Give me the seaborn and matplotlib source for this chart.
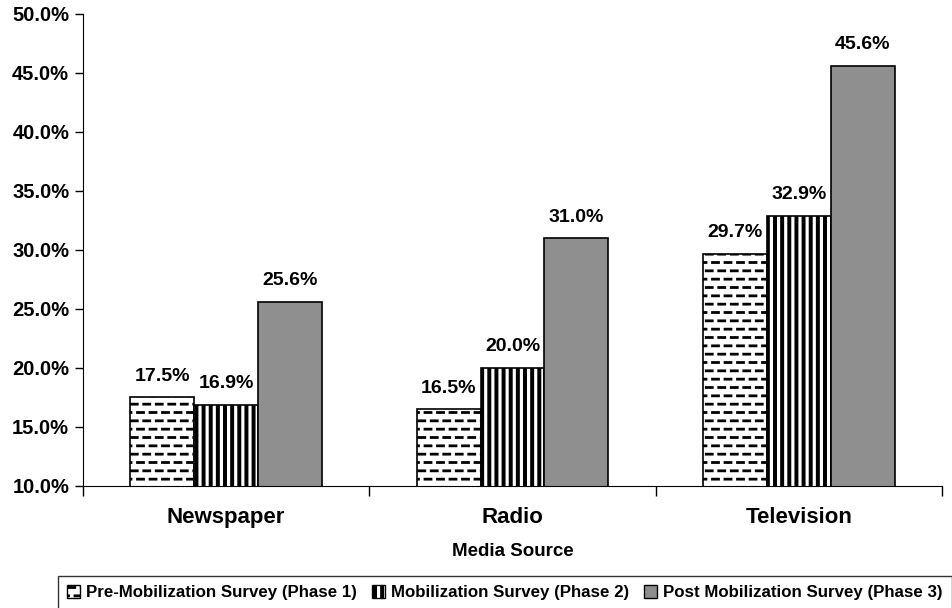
import numpy as np
import pandas as pd
import matplotlib
matplotlib.use('Agg')
import matplotlib.pyplot as plt
import matplotlib.hatch as mhatch
from matplotlib.path import Path
import seaborn as sns
from matplotlib.ticker import FuncFormatter, FixedLocator

# data
media = ['Newspaper', 'Radio', 'Television']
phases = ['Pre-Mobilization Survey (Phase 1)',
          'Mobilization Survey (Phase 2)',
          'Post Mobilization Survey (Phase 3)']
phase1 = [17.5, 16.5, 29.7]
phase2 = [16.9, 20.0, 32.9]
phase3 = [25.6, 31.0, 45.6]

df = pd.DataFrame({
    'Media Source': media * 3,
    'Phase': [phases[0]] * 3 + [phases[1]] * 3 + [phases[2]] * 3,
    'Value': phase1 + phase2 + phase3,
})


# staggered short dashes for '-' (Excel style pattern)
class DashHatch(mhatch.HatchPatternBase):
    rows, per_row, dash = 12, 8, 0.06

    def __init__(self, hatch, density):
        self.num_vertices = 2 * self.rows * self.per_row if '-' in hatch else 0

    def set_vertices_and_codes(self, vertices, codes):
        i = 0
        for r in range(self.rows):
            y = (r + 0.5) / self.rows
            off = 0.0 if r % 2 == 0 else 0.5 / self.per_row
            for j in range(self.per_row):
                x0 = off + j / self.per_row
                vertices[i] = (x0, y)
                vertices[i + 1] = (x0 + self.dash, y)
                codes[i] = Path.MOVETO
                codes[i + 1] = Path.LINETO
                i += 2


# thick vertical stripes for '|'
class StripeHatch(mhatch.HatchPatternBase):
    n, w = 14, 0.012

    def __init__(self, hatch, density):
        self.num_vertices = 4 * self.n if '|' in hatch else 0

    def set_vertices_and_codes(self, vertices, codes):
        i = 0
        for k in range(self.n):
            x = (k + 0.5) / self.n
            for dx in (-self.w / 2, self.w / 2):
                vertices[i] = (x + dx, 0.0)
                vertices[i + 1] = (x + dx, 1.0)
                codes[i] = Path.MOVETO
                codes[i + 1] = Path.LINETO
                i += 2


mhatch._hatch_types = [DashHatch, StripeHatch] + [
    t for t in mhatch._hatch_types
    if t not in (mhatch.HorizontalHatch, mhatch.VerticalHatch)]

sns.set_style('white')
plt.rcParams['font.family'] = ['Liberation Sans', 'DejaVu Sans']
plt.rcParams['font.weight'] = 'bold'
plt.rcParams['text.color'] = 'black'
plt.rcParams['axes.labelcolor'] = 'black'
plt.rcParams['xtick.color'] = 'black'
plt.rcParams['ytick.color'] = 'black'
plt.rcParams['hatch.linewidth'] = 2.0

fig = plt.figure(figsize=(9.52, 6.08), dpi=100)
ax = fig.add_axes([0.0872, 0.2007, 0.9023, 0.7763])

faces = ['white', 'white', '#8f8f8f']
hatches = ['-', '|', '']
sns.barplot(data=df, x='Media Source', y='Value', hue='Phase', hue_order=phases,
            palette=faces, width=0.67, edgecolor='black', linewidth=1.2,
            saturation=1, ax=ax, legend=False)

for cont, h in zip(ax.containers, hatches):
    for bar in cont:
        bar.set_hatch(h)
    ax.bar_label(cont, labels=[f'{v:.1f}%' for v in cont.datavalues],
                 padding=9, fontsize=14, fontweight='bold')

ax.set_ylim(10, 50)
ax.set_yticks([10, 15, 20, 25, 30, 35, 40, 45, 50])
ax.yaxis.set_major_formatter(FuncFormatter(lambda v, p: f'{v:.1f}%'))
ax.set_xlim(-0.5, 2.5)
ax.xaxis.set_major_locator(FixedLocator([-0.5, 0.5, 1.5, 2.5]))
ax.set_xticklabels([])
for i, m in enumerate(media):
    ax.text(i, -0.045, m, transform=ax.get_xaxis_transform(), ha='center', va='top',
            fontsize=16, fontweight='bold')
ax.tick_params(axis='both', direction='out', length=6, width=1, colors='black',
               left=True, bottom=True, labelsize=14.5, pad=4)
ax.tick_params(axis='x', length=7)
for lbl in ax.get_yticklabels():
    lbl.set_fontweight('bold')

sns.despine(ax=ax)
ax.spines['left'].set_color('black')
ax.spines['bottom'].set_color('black')
ax.set_xlabel('Media Source', fontsize=13.5, fontweight='bold', labelpad=30)
ax.set_ylabel('')

# legend along the bottom, frame running past the figure edge
handles = [plt.Rectangle((0, 0), 1, 1, facecolor=f, edgecolor='black', hatch=h, linewidth=1)
           for f, h in zip(faces, hatches)]
leg = fig.legend(handles, phases, loc='upper left', bbox_to_anchor=(0.061, 0.0526),
                 ncol=3, frameon=True, fancybox=False,
                 handlelength=0.75, handleheight=0.75, handletextpad=0.35, columnspacing=0.9,
                 borderpad=0.55, borderaxespad=0, prop={'weight': 'bold', 'size': 12.2})
leg.get_frame().set_edgecolor('black')
leg.get_frame().set_linewidth(1)

fig.savefig('out.png', dpi=100)
